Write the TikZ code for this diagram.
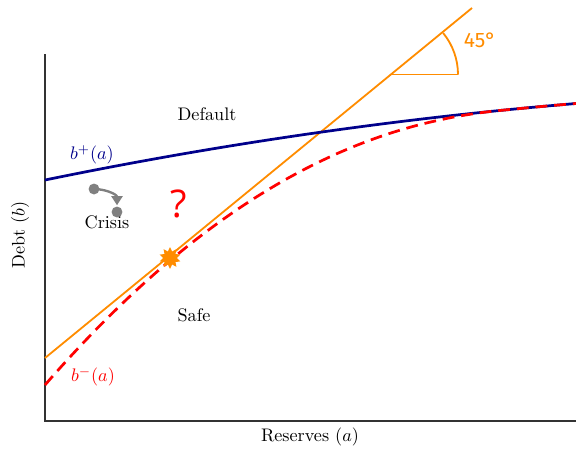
\documentclass[tikz,border=0pt]{standalone}
\usepackage{fontspec}
\newfontfamily\labsans{Fira Sans}
\newfontfamily\qsans{Open Sans}
\usetikzlibrary{shapes.geometric,arrows.meta}
\definecolor{myorange}{HTML}{FF8C00}
\definecolor{myblue}{HTML}{00008B}
\definecolor{myred}{HTML}{FF0000}
\definecolor{axisgray}{HTML}{333333}
\definecolor{crisisgray}{HTML}{808080}
\tikzset{
  axisline/.style={draw=axisgray, line width=0.8pt},
  bplus/.style={draw=myblue, line width=1.5pt},
  bminus/.style={draw=myred, line width=1.5pt, dash pattern=on 6.5pt off 3.8pt},
  diag/.style={draw=myorange, line width=1pt},
  lbl/.style={inner sep=0pt, anchor=center},
  crisisdot/.style={circle, fill=crisisgray, inner sep=0pt, minimum size=6pt},
}
\begin{document}
\begin{tikzpicture}[x=0.55pt, y=-0.55pt,
  declare function={
    bup(\x)=180 - 20.516*((\x-45)/100) + 1.1505*((\x-45)/100)^2;
    bdn(\x)=bup(\x) + 205*pow(max(0.00001,1-(\x-45)/455),2.1);
  }]
\useasboundingbox (0,0) rectangle (576,449);
% axes
\coordinate (ytop) at (45,54);
\coordinate (orig) at (45,421);
\coordinate (xend) at (576,421);
\draw[axisline] (ytop) -- (orig) -- (xend);
% 45 degree line
\coordinate (d0) at (45,358);
\coordinate (d1) at (472,8);
\draw[diag] (d0) -- (d1);
\coordinate (ac) at (392.4,74.6);
\coordinate (ae) at (458,74.6);
\draw[draw=myorange, line width=0.6pt] (ac) -- (ae);
\draw[diag] (ae) arc[start angle=0, end angle=39.3, radius=36.1pt];
\node[lbl, text=myorange, font=\labsans\fontsize{11.5}{12}\selectfont] (deg) at (480,40) {45°};
% b+ curve
\draw[bplus] plot[domain=45:576, samples=80, smooth] (\x, {bup(\x)});
% b- curve
\draw[bminus] plot[domain=45:576, samples=100, smooth] (\x, {bdn(\x)});
% star
\node[star, star points=10, star point ratio=1.6, fill=myorange, inner sep=0pt, minimum size=12pt] (eq) at (170,258) {};
% labels
\node[lbl] (default) at (207,114) {Default};
\node[lbl] (safe) at (194,315) {Safe};
\node[lbl] (crisis) at (107,222) {Crisis};
\node[lbl, text=myblue] (bp) at (92,155) {$b^{+}(a)$};
\node[lbl, text=myred] (bm) at (93,377) {$b^{-}(a)$};
\node[lbl, text=myred, font=\qsans\fontsize{21}{23}\selectfont] (q) at (179,204) {?};
\node[lbl] (xl) at (310,437) {Reserves $(a)$};
\node[lbl, rotate=90] (yl) at (20,235) {Debt $(b)$};
% crisis arrow
\node[crisisdot] (c1) at (94,189) {};
\node[crisisdot] (c2) at (117,212) {};
\draw[crisisgray, line width=1.3pt, -{Triangle[length=5pt,width=6pt]}] (c1.center) to[out=0, in=90] ([yshift=0.5pt]c2.north);
\end{tikzpicture}
\end{document}
